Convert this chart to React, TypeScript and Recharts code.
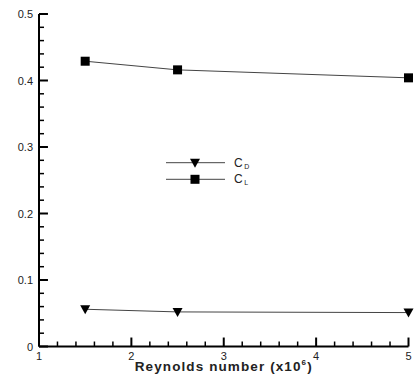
import { LineChart, Line, XAxis, YAxis, Legend, ReferenceLine } from "recharts";

// ── Data ──────────────────────────────────────────────────────────────────────
const reynolds = [1.5, 2.5, 5];
const cd = [0.056, 0.052, 0.051];
const cl = [0.429, 0.416, 0.404];

const xTicks = [1, 2, 3, 4, 5];
const xMinor = [1.2, 1.4, 1.6, 1.8, 2.2, 2.4, 2.6, 2.8, 3.2, 3.4, 3.6, 3.8, 4.2, 4.4, 4.6, 4.8];
const yTicks = [0, 0.1, 0.2, 0.3, 0.4, 0.5];
const yMinor = [
  0.02, 0.04, 0.06, 0.08, 0.12, 0.14, 0.16, 0.18, 0.22, 0.24,
  0.26, 0.28, 0.32, 0.34, 0.36, 0.38, 0.42, 0.44, 0.46, 0.48,
];
const yLabels = ["0", "0.1", "0.2", "0.3", "0.4", "0.5"];

const rows = reynolds.map((re, i) => ({ re, cd: cd[i], cl: cl[i] }));

// tick mark lengths in axis units (about 9px major / 5px minor)
const X_MAJ = 0.0135;
const X_MIN = 0.0075;
const Y_MAJ = 0.097;
const Y_MIN = 0.054;

const FONT = "'Liberation Sans', Arial, sans-serif";
const LINE = "#444";
const TXT = "#222";

// ── Tick labels ───────────────────────────────────────────────────────────────
function XTick({ x, y, payload }: any) {
  return (
    <text x={x} y={y + 13} textAnchor="middle" fontSize={11} fontFamily={FONT} fill={TXT}>
      {String(payload.value)}
    </text>
  );
}

function YTick({ x, y, index }: any) {
  return (
    <text x={x - 6} y={y + 4} textAnchor="end" fontSize={11} fontFamily={FONT} fill={TXT}>
      {yLabels[index]}
    </text>
  );
}

// ── Markers ───────────────────────────────────────────────────────────────────
function Square({ cx, cy }: any) {
  return <rect x={cx - 4.5} y={cy - 4.5} width={9} height={9} fill="#000" />;
}

function Tri({ cx, cy }: any) {
  return <polygon points={`${cx - 5},${cy - 4} ${cx + 5},${cy - 4} ${cx},${cy + 5}`} fill="#000" />;
}

// ── Legend ────────────────────────────────────────────────────────────────────
function LegendBox() {
  const item = (y: number, sub: string, square: boolean) => (
    <g>
      <line x1={6} x2={65} y1={y} y2={y} stroke={LINE} strokeWidth={1} />
      {square ? (
        <rect x={30.5} y={y - 4.5} width={9} height={9} fill="#000" />
      ) : (
        <polygon points={`${30},${y - 4} ${40},${y - 4} ${35},${y + 5}`} fill="#000" />
      )}
      <text x={74} y={y + 4} fontSize={12} fontFamily={FONT} fill={TXT}>
        C<tspan fontSize={7} dx={1.5} dy={2}>{sub}</tspan>
      </text>
    </g>
  );
  return (
    <svg width={100} height={36}>
      {item(12.7, "D", false)}
      {item(29.3, "L", true)}
    </svg>
  );
}

function XTitle({ viewBox }: any) {
  const cx = viewBox.x + viewBox.width / 2;
  return (
    <text x={cx} y={371} textAnchor="middle" fontSize={13.5} letterSpacing={1.1} fontWeight="bold" fontFamily={FONT} fill={TXT}>
      Reynolds number (x10<tspan fontSize={8} dy={-6}>6</tspan><tspan dy={6}>)</tspan>
    </text>
  );
}

export default function App() {
  return (
    <div style={{ position: "absolute", left: 0, top: 0, width: 416, height: 381, background: "#fff" }}>
      <LineChart width={416} height={381} data={rows} margin={{ top: 14, right: 7.5, left: 0, bottom: 0 }}>
        <XAxis
          dataKey="re"
          type="number"
          domain={[1, 5]}
          ticks={xTicks}
          interval={0}
          height={34.5}
          tickSize={0}
          tickMargin={0}
          tickLine={false}
          axisLine={{ stroke: "#000", strokeWidth: 2 }}
          tick={<XTick />}
          label={(p: any) => <XTitle {...p} />}
        />
        <YAxis
          type="number"
          domain={[0, 0.5]}
          ticks={yTicks}
          interval={0}
          width={39}
          tickSize={0}
          tickMargin={0}
          tickLine={false}
          axisLine={{ stroke: "#000", strokeWidth: 2 }}
          tick={<YTick />}
        />

        {/* inward tick marks */}
        {xTicks.map((v) => (
          <ReferenceLine key={`xM${v}`} segment={[{ x: v, y: 0 }, { x: v, y: X_MAJ }]} stroke="#000" strokeWidth={2} ifOverflow="visible" />
        ))}
        {xMinor.map((v) => (
          <ReferenceLine key={`xm${v}`} segment={[{ x: v, y: 0 }, { x: v, y: X_MIN }]} stroke="#000" strokeWidth={1.5} ifOverflow="visible" />
        ))}
        {yTicks.map((v) => (
          <ReferenceLine key={`yM${v}`} segment={[{ x: 1, y: v }, { x: 1 + Y_MAJ, y: v }]} stroke="#000" strokeWidth={2} ifOverflow="visible" />
        ))}
        {yMinor.map((v) => (
          <ReferenceLine key={`ym${v}`} segment={[{ x: 1, y: v }, { x: 1 + Y_MIN, y: v }]} stroke="#000" strokeWidth={1.5} ifOverflow="visible" />
        ))}

        <Legend
          layout="vertical"
          align="center"
          verticalAlign="middle"
          content={() => <LegendBox />}
          wrapperStyle={{ position: "absolute", left: 160, top: 150, width: 100, height: 36 }}
        />
        <Line dataKey="cd" stroke={LINE} strokeWidth={1} dot={<Tri />} activeDot={false} isAnimationActive={false} />
        <Line dataKey="cl" stroke={LINE} strokeWidth={1} dot={<Square />} activeDot={false} isAnimationActive={false} />
      </LineChart>
    </div>
  );
}
